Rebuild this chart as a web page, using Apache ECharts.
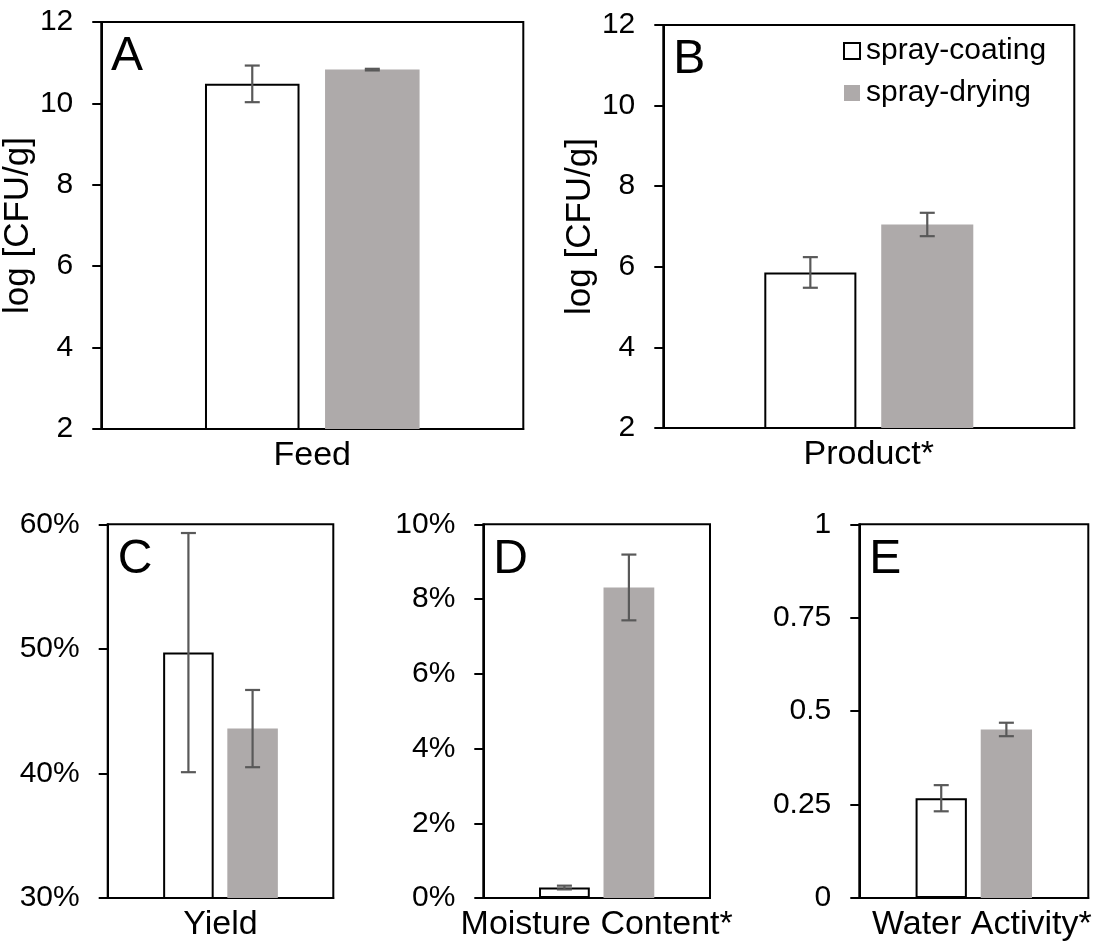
<!DOCTYPE html>
<html>
<head>
<meta charset="utf-8">
<script src="https://cdn.jsdelivr.net/npm/echarts@6/dist/echarts.min.js"></script>
<style>
  html, body { margin: 0; padding: 0; background: #fff; }
  #chart { width: 1097px; height: 942px; }
</style>
</head>
<body>
<div id="chart"></div>
<script>
// Panel categories (one per panel) and panel letters
const categories = ['Feed', 'Product*', 'Yield', 'Moisture Content*', 'Water Activity*'];
const panelLetters = ['A', 'B', 'C', 'D', 'E'];
const seriesNames = ['spray-coating', 'spray-drying'];

// Means and standard deviations per panel
const coatingMean = [10.48, 5.86, 49.7, 0.28, 0.267];
const coatingErr  = [0.45, 0.38, 9.6, 0.05, 0.035];
const dryingMean  = [10.83, 7.05, 43.6, 8.31, 0.451];
const dryingErr   = [0.02, 0.29, 3.1, 0.88, 0.018];

// Value-axis ranges and label suffixes
const axisMin  = [2, 2, 30, 0, 0];
const axisMax  = [12, 12, 60, 10, 1];
const axisStep = [2, 2, 10, 2, 0.25];
const axisSuffix = ['', '', '%', '%', ''];
const axisTitle = ['log [CFU/g]', 'log [CFU/g]', '', '', ''];

const FONT = '"Liberation Sans", Arial, Helvetica, sans-serif';
const W = 1097, H = 942;
// plot rectangles: [left, top, right, bottom] in pixels
const rects = [
  [101, 22, 523.3, 429],
  [663.3, 25, 1074.3, 428],
  [107.7, 524.3, 333.3, 899],
  [483.3, 524.3, 710, 899],
  [859.3, 524.3, 1088.3, 899]
];
const BAR_W = 0.224;   // share of the category band
const BAR_GAP = 0.27;  // gap as share of bar width
const GRAY = '#aeaaaa';
const ERR = '#595959';

const grids = [], xAxes = [], yAxes = [], series = [], titles = [];

rects.forEach((r, i) => {
  grids.push({
    left: r[0], top: r[1], right: W - r[2], bottom: H - r[3],
    show: true, borderColor: '#000', borderWidth: 2, backgroundColor: 'transparent'
  });
  xAxes.push({
    type: 'category', gridIndex: i, data: [categories[i]],
    axisLine: { lineStyle: { color: '#000', width: 2 } },
    axisTick: { show: false },
    axisLabel: {
      color: '#000', fontSize: 34, fontFamily: FONT, margin: 10,
      padding: i === 4 ? [0, 0, 0, 16] : 0
    }
  });
  yAxes.push({
    type: 'value', gridIndex: i,
    min: axisMin[i], max: axisMax[i], interval: axisStep[i],
    name: axisTitle[i], nameLocation: 'middle', nameGap: 55,
    nameTextStyle: { color: '#000', fontSize: 35, fontFamily: FONT },
    axisLine: { show: true, lineStyle: { color: '#000', width: 2 } },
    axisTick: { show: true, inside: false, length: 9, lineStyle: { color: '#000', width: 2 } },
    splitLine: { show: false },
    axisLabel: {
      color: '#000', fontSize: 30, fontFamily: FONT, margin: 28,
      formatter: v => v + axisSuffix[i]
    }
  });
  series.push({
    name: seriesNames[0], type: 'bar', xAxisIndex: i, yAxisIndex: i,
    data: [coatingMean[i]],
    barWidth: (BAR_W * 100) + '%', barGap: (BAR_GAP * 100) + '%',
    itemStyle: { color: '#ffffff', borderColor: '#000', borderWidth: 2 },
    emphasis: { disabled: true }
  });
  series.push({
    name: seriesNames[1], type: 'bar', xAxisIndex: i, yAxisIndex: i,
    data: [dryingMean[i]],
    barWidth: (BAR_W * 100) + '%', barGap: (BAR_GAP * 100) + '%',
    itemStyle: { color: GRAY },
    emphasis: { disabled: true }
  });
  // error bars for both groups
  series.push({
    type: 'custom', xAxisIndex: i, yAxisIndex: i, z: 10,
    data: [[0, coatingMean[i], coatingErr[i], 0], [0, dryingMean[i], dryingErr[i], 1]],
    encode: { x: 0, y: 1 },
    renderItem: (params, api) => {
      const mean = api.value(1), err = api.value(2), which = api.value(3);
      const c = api.coord([0, mean]);
      const band = api.size([1, 0])[0];
      const bw = band * BAR_W;
      const x = c[0] + (which ? 1 : -1) * (bw + bw * BAR_GAP) / 2;
      const yHi = api.coord([0, mean + err])[1];
      const yLo = api.coord([0, mean - err])[1];
      const cap = 7.5;
      const style = { stroke: ERR, lineWidth: 2.2 };
      return {
        type: 'group',
        children: [
          { type: 'line', shape: { x1: x, y1: yHi, x2: x, y2: yLo }, style },
          { type: 'line', shape: { x1: x - cap, y1: yHi, x2: x + cap, y2: yHi }, style },
          { type: 'line', shape: { x1: x - cap, y1: yLo, x2: x + cap, y2: yLo }, style }
        ]
      };
    }
  });
  titles.push({
    text: panelLetters[i], left: r[0] + 10, top: r[1] + 11, padding: 0,
    textStyle: { color: '#000', fontSize: 48, fontWeight: 'normal', fontFamily: FONT }
  });
});

const chart = echarts.init(document.getElementById('chart'), null, { renderer: 'canvas' });
chart.setOption({
  animation: false,
  backgroundColor: '#fff',
  title: titles,
  grid: grids,
  xAxis: xAxes,
  yAxis: yAxes,
  legend: {
    data: seriesNames, orient: 'vertical', left: 843, top: 36,
    itemWidth: 16, itemHeight: 16, itemGap: 12, padding: 0,
    icon: 'rect', selectedMode: false,
    textStyle: { color: '#000', fontSize: 30, fontFamily: FONT, padding: [0, 0, 0, 1] }
  },
  series: series
});
</script>
</body>
</html>
